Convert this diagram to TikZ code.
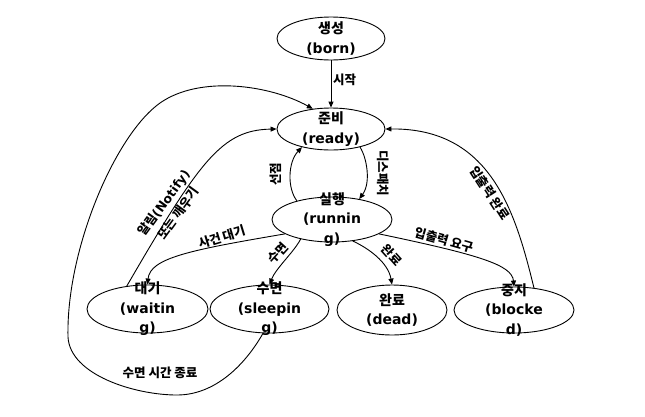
\documentclass[tikz,border=0pt]{standalone}
\usepackage{fontspec}
\setmainfont{DejaVu Sans}
\newfontfamily\kr{Noto Sans CJK KR}
\usetikzlibrary{shapes.geometric,arrows.meta}
\tikzset{
  st/.style={draw, ellipse, line width=0.9pt, inner sep=0pt},
  sttext/.style={align=center, font=\fontsize{14}{19.5}\selectfont\bfseries, inner sep=0pt},
  elab/.style={font=\fontsize{12.5}{16}\selectfont\bfseries, inner sep=0pt, align=center},
  edge/.style={line width=0.9pt, -{Triangle[length=6pt,width=5pt]}}
}
\begin{document}
\begin{tikzpicture}[x=1pt,y=-1pt]
\fill[white] (0,0) rectangle (645,416);
\useasboundingbox (0,0) rectangle (645,416);

% states
\node[st, minimum width=108pt, minimum height=43pt] (born) at (331,38.5) {};
\node[sttext] (bornT) at (born.center) {{\kr 생성}\\(born)};
\node[st, minimum width=108pt, minimum height=42pt] (ready) at (331,129) {};
\node[sttext] (readyT) at (ready.center) {{\kr 준비}\\(ready)};
\node[st, minimum width=120pt, minimum height=45pt] (run) at (332,219.5) {};
\node[sttext] (runT) at (run.center) {{\kr 실행}\\(runnin\\g)};
\node[st, minimum width=121pt, minimum height=48pt] (wait) at (147.5,309) {};
\node[sttext] (waitT) at (wait.center) {{\kr 대기}\\(waitin\\g)};
\node[st, minimum width=119pt, minimum height=48pt] (sleep) at (269.5,309) {};
\node[sttext] (sleepT) at (sleep.center) {{\kr 수면}\\(sleepin\\g)};
\node[st, minimum width=110pt, minimum height=50pt] (dead) at (392,310) {};
\node[sttext] (deadT) at (dead.center) {{\kr 완료}\\(dead)};
\node[st, minimum width=120pt, minimum height=46pt] (block) at (514,310) {};
\node[sttext] (blockT) at (block.center) {{\kr 중지}\\(blocke\\d)};

% connectors
\draw[edge] (born) -- (ready);
\draw[edge] (ready.-32) .. controls (367,158) and (371,183) .. (run.37);
\draw[edge] (run.152) .. controls (287,188) and (288,162) .. (ready.212);
\draw[edge] (run.197) .. controls (190,250) and (150,258) .. (wait.north);
\draw[edge] (run.212) .. controls (294,252) and (276,268) .. (sleep.north);
\draw[edge] (run.-46) .. controls (368,248) and (388,262) .. (dead.north);
\draw[edge] (run.-17) .. controls (480,255) and (512,265) .. (block.north);
\draw[edge] (block.48.5) .. controls (515,210) and (490,128) .. (ready.east);
\draw[edge] (wait.132) .. controls (200,160) and (222,130) .. (ready.west);
\draw[edge] (sleep.-105) .. controls (245,365) and (215,395) .. (177,395)
   .. controls (135,395) and (70,375) .. (68,337)
   .. controls (66,250) and (115,135) .. (160,103)
   .. controls (200,75) and (270,85) .. (ready.132);

% labels
\node[elab, anchor=west] (lStart) at (333,80) {\kr 시작};
\node[elab, rotate=-90] (lDispatch) at (383,173) {\kr 디스패치};
\node[elab, rotate=90] (lPreempt) at (276,174) {\kr 선점};
\node[elab, rotate=17] (lWaitEv) at (222,237) {\kr 사건 대기};
\node[elab, rotate=48] (lSleep) at (278,253) {\kr 수면};
\node[elab, rotate=-48] (lDone) at (392,255) {\kr 완료};
\node[elab, rotate=-16] (lIOReq) at (444,240) {\kr 입출력 요구};
\node[elab, rotate=-57] (lIODone) at (490,193) {\kr 입출력 완료};
\node[elab, rotate=54, font=\fontsize{12.5}{17.5}\selectfont\bfseries] (lNotify) at (171,208) {{\kr 알림}(Notify)\\{\kr 또는 깨우기}};
\node[elab] (lSleepEnd) at (160,373) {\kr 수면 시간 종료};
\end{tikzpicture}
\end{document}
